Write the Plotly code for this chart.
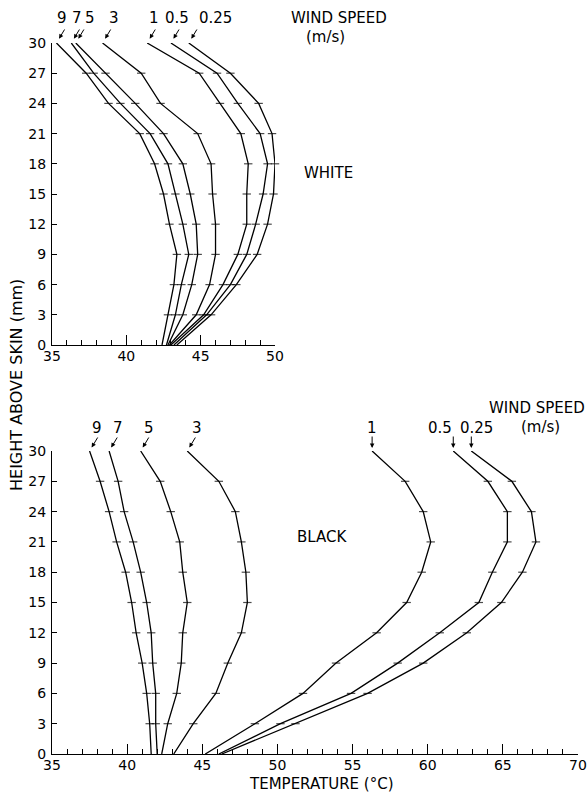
import plotly.graph_objects as go

# ---------------- data ----------------
heights = [0, 3, 6, 9, 12, 15, 18, 21, 24, 27, 30]

wind_white = ["9", "7", "5", "3", "1", "0.5", "0.25"]
white_9 = [42.4, 42.8, 43.2, 43.4, 42.9, 42.5, 41.9, 40.9, 38.8, 37.3, 35.3]
white_7 = [42.7, 43.3, 43.7, 44.2, 43.8, 43.3, 42.8, 41.6, 39.6, 37.8, 36.3]
white_5 = [42.8, 43.8, 44.4, 44.8, 44.7, 44.3, 43.8, 42.5, 40.6, 38.6, 36.6]
white_3 = [42.9, 44.7, 45.6, 46.0, 46.0, 45.8, 45.7, 44.8, 42.3, 41.0, 38.4]
white_1 = [43.0, 45.2, 46.5, 47.5, 48.1, 48.1, 48.2, 47.7, 46.3, 44.9, 41.4]
white_05 = [43.2, 45.4, 47.0, 48.1, 48.7, 49.2, 49.5, 49.0, 47.5, 46.1, 43.0]
white_025 = [43.4, 45.7, 47.4, 48.8, 49.5, 49.9, 50.0, 49.8, 48.9, 47.0, 44.2]

wind_black = ["9", "7", "5", "3", "1", "0.5", "0.25"]
black_9 = [41.6, 41.5, 41.3, 41.0, 40.6, 40.3, 39.9, 39.3, 38.8, 38.2, 37.5]
black_7 = [42.0, 41.9, 41.9, 41.7, 41.6, 41.3, 40.9, 40.4, 39.8, 39.4, 38.8]
black_5 = [42.3, 42.7, 43.3, 43.6, 43.7, 44.0, 43.7, 43.5, 42.9, 42.2, 40.9]
black_3 = [43.1, 44.4, 45.9, 46.7, 47.6, 48.0, 47.9, 47.6, 47.2, 46.1, 44.0]
black_1 = [45.2, 48.5, 51.7, 53.9, 56.6, 58.6, 59.6, 60.2, 59.7, 58.5, 56.3]
black_05 = [46.1, 50.2, 54.9, 58.0, 60.8, 63.4, 64.3, 65.3, 65.3, 64.0, 61.7]
black_025 = [46.3, 51.2, 56.0, 59.7, 62.6, 64.9, 66.3, 67.2, 66.9, 65.6, 62.9]

white_series = [white_9, white_7, white_5, white_3, white_1, white_05, white_025]
black_series = [black_9, black_7, black_5, black_3, black_1, black_05, black_025]

# ---------------- figure ----------------
W, H = 588, 792
FONT = "DejaVu Sans"

def px_x(p):
    return p / W

def px_y(p):
    return 1 - p / H

fig = go.Figure()
msize = [0] + [6] * (len(heights) - 2) + [0]

for s in white_series:
    fig.add_trace(go.Scatter(
        x=s, y=heights, xaxis="x", yaxis="y", mode="lines+markers",
        line=dict(color="black", width=1.3),
        marker=dict(symbol="line-ew", size=msize, line=dict(color="black", width=1.2)),
        cliponaxis=False, showlegend=False, hoverinfo="skip"))

for s in black_series:
    fig.add_trace(go.Scatter(
        x=s, y=heights, xaxis="x2", yaxis="y2", mode="lines+markers",
        line=dict(color="black", width=1.3),
        marker=dict(symbol="line-ew", size=msize, line=dict(color="black", width=1.2)),
        cliponaxis=False, showlegend=False, hoverinfo="skip"))

axis_common = dict(showgrid=False, zeroline=False, showline=True, linecolor="black",
                   linewidth=1.3, ticks="inside", tickcolor="black", tickwidth=1.2,
                   automargin=False,
                   tickfont=dict(family=FONT, size=14, color="black"))

xcommon = dict(axis_common, dtick=5, ticklen=10, ticklabelstandoff=-2,
               minor=dict(dtick=1, ticks="inside", ticklen=5, tickcolor="black", tickwidth=1))
ycommon = dict(axis_common, dtick=3, ticklen=5, range=[0, 30], ticklabelstandoff=2)

fig.update_layout(
    width=W, height=H, autosize=False,
    margin=dict(l=0, r=0, t=0, b=0),
    paper_bgcolor="white", plot_bgcolor="white",
    font=dict(family=FONT, color="black"),
    xaxis=dict(xcommon, range=[35, 50], tick0=35, domain=[px_x(52), px_x(275)], anchor="y"),
    yaxis=dict(ycommon, domain=[px_y(345), px_y(43)], anchor="x"),
    xaxis2=dict(xcommon, range=[35, 70], tick0=35, domain=[px_x(52), px_x(578)], anchor="y2"),
    yaxis2=dict(ycommon, domain=[px_y(754), px_y(451)], anchor="x2"),
)

ann = []

def text(t, x, y, size=15):
    ann.append(dict(text=t, x=px_x(x), y=px_y(y), xref="paper", yref="paper",
                    showarrow=False, xanchor="center", yanchor="middle",
                    font=dict(family=FONT, size=size, color="black")))

def arrow(xd, yd, ax, ay, xr, yr, standoff=5):
    ann.append(dict(text="", x=xd, y=yd, xref=xr, yref=yr, ax=ax, ay=ay,
                    showarrow=True, arrowhead=2, arrowsize=0.9, arrowwidth=1,
                    arrowcolor="black", standoff=standoff))

# top panel labels
top_label_px = [62, 77, 90, 114, 154, 177, 215]
for lab, lx, s in zip(wind_white, top_label_px, white_series):
    text(lab, lx, 18)
    arrow(s[-1], heights[-1], 9, -15, "x", "y")
text("WIND SPEED", 339, 18)
text("(m/s)", 325, 37)
text("WHITE", 328, 173)

# bottom panel labels
bot_label_px = [97, 118, 149, 197, 372, 440, 476]
for i, (lab, lx, s) in enumerate(zip(wind_black, bot_label_px, black_series)):
    text(lab, lx, 428)
    if i < 4:
        arrow(s[-1], heights[-1], 9, -15, "x2", "y2", standoff=4)
    else:
        arrow(s[-1], heights[-1], 0, -16, "x2", "y2", standoff=3)
text("WIND SPEED", 537, 408)
text("(m/s)", 540, 427)
text("BLACK", 322, 537)

# axis titles
ann.append(dict(text="HEIGHT ABOVE SKIN (mm)", x=px_x(16), y=px_y(385), xref="paper", yref="paper",
                showarrow=False, textangle=-90, xanchor="center", yanchor="middle",
                font=dict(family=FONT, size=16, color="black")))
text("TEMPERATURE (°C)", 321, 784, 15)

fig.update_layout(annotations=ann)
fig.write_html("out.html")
